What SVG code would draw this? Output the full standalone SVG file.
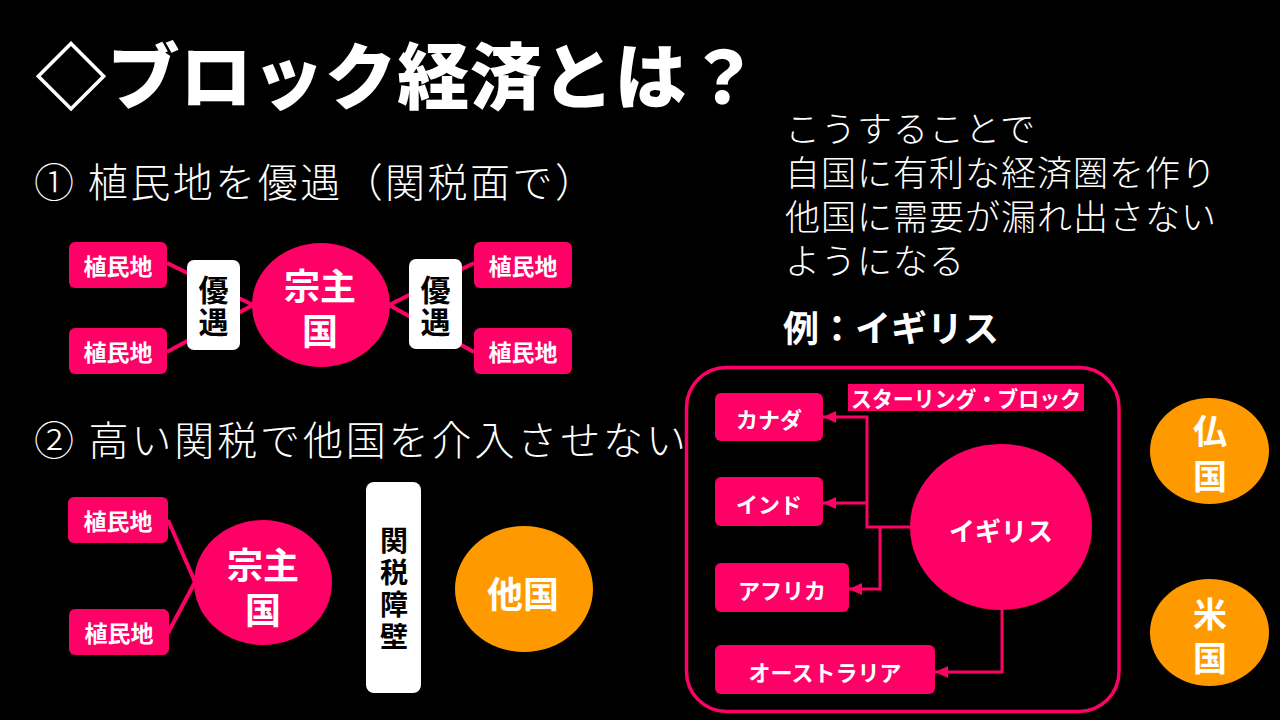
<svg xmlns="http://www.w3.org/2000/svg" width="1280" height="720" viewBox="0 0 1280 720">
<defs>
<style>
text{font-family:'Noto Sans CJK JP','Noto Sans CJK SC',sans-serif}
.pk{fill:#FF0066}
.or{fill:#FF9900}
.wbox{fill:#FFFFFF}
.lbl{fill:#FFFFFF;font-weight:700;text-anchor:middle;dominant-baseline:central}
.vw{fill:#FFFFFF;font-weight:700;text-anchor:middle;writing-mode:vertical-rl}
.vk{fill:#000000;font-weight:700;text-anchor:middle;writing-mode:vertical-rl}
.body{fill:#FFFFFF;font-weight:300}
.ln{stroke:#FF0066;stroke-width:4;fill:none}
.ar{stroke:#FF0066;stroke-width:3;fill:none;marker-end:url(#ah)}
</style>
<marker id="ah" markerUnits="userSpaceOnUse" markerWidth="13" markerHeight="12" refX="13" refY="6" orient="auto">
<path d="M0,0 L13,6 L0,12 z" fill="#FF0066"/>
</marker>
</defs>
<rect width="1280" height="720" fill="#000000"/>

<g id="title">
<text x="35" y="103" font-size="72" font-weight="900" fill="#FFFFFF" textLength="724" lengthAdjust="spacing">◇ブロック経済とは？</text>
</g>
<g id="heading1"><text class="body" x="34" y="197" font-size="40" textLength="561" lengthAdjust="spacing">① 植民地を優遇（関税面で）</text></g>
<g id="heading2"><text class="body" x="34" y="455" font-size="40" textLength="652" lengthAdjust="spacing">② 高い関税で他国を介入させない</text></g>
<g id="explain">
<text class="body" font-size="35" letter-spacing="1"><tspan x="785" y="142">こうすることで</tspan><tspan x="785" y="186">自国に有利な経済圏を作り</tspan><tspan x="785" y="230">他国に需要が漏れ出さない</tspan><tspan x="785" y="274">ようになる</tspan></text>
<text x="783" y="342" font-size="36" font-weight="700" fill="#FFFFFF">例：イギリス</text>
</g>

<g id="connectors">
<line class="ln" x1="167" y1="263" x2="253" y2="305"/>
<line class="ln" x1="167" y1="352" x2="253" y2="305"/>
<line class="ln" x1="389" y1="305" x2="474" y2="263"/>
<line class="ln" x1="389" y1="305" x2="474" y2="352"/>
<line class="ln" x1="168" y1="520" x2="195" y2="582"/>
<line class="ln" x1="168" y1="633" x2="195" y2="582"/>
<path class="ar" d="M910,527 H867 V417 H823"/>
<path class="ar" d="M867,503 H823"/>
<path class="ar" d="M880,527 V589 H849"/>
<path class="ar" d="M1002,610 V672 H935"/>
</g>

<g id="col1a"><rect class="pk" x="69" y="242" width="98" height="46" rx="6"/><text class="lbl" x="118" y="265" font-size="23">植民地</text></g>
<g id="col1b"><rect class="pk" x="69" y="328" width="98" height="46" rx="6"/><text class="lbl" x="118" y="351" font-size="23">植民地</text></g>
<g id="col1c"><rect class="pk" x="474" y="242" width="98" height="46" rx="6"/><text class="lbl" x="523" y="265" font-size="23">植民地</text></g>
<g id="col1d"><rect class="pk" x="474" y="328" width="98" height="46" rx="6"/><text class="lbl" x="523" y="351" font-size="23">植民地</text></g>
<g id="yuuguu1"><rect class="wbox" x="187" y="260" width="53" height="90" rx="7"/><text class="vk" x="213.5" y="307" font-size="30" letter-spacing="2">優遇</text></g>
<g id="yuuguu2"><rect class="wbox" x="409" y="259" width="53" height="90" rx="7"/><text class="vk" x="435.5" y="307" font-size="30" letter-spacing="2">優遇</text></g>
<g id="suzerain1"><ellipse class="pk" cx="321" cy="305" rx="69" ry="62"/><text class="lbl" font-size="36"><tspan x="320" y="284">宗主</tspan><tspan x="320" y="329">国</tspan></text></g>

<g id="col2a"><rect class="pk" x="68" y="497" width="100" height="46" rx="6"/><text class="lbl" x="118" y="520" font-size="23">植民地</text></g>
<g id="col2b"><rect class="pk" x="69" y="609" width="100" height="46" rx="6"/><text class="lbl" x="119" y="632" font-size="23">植民地</text></g>
<g id="suzerain2"><ellipse class="pk" cx="263" cy="582.5" rx="69" ry="62.5"/><text class="lbl" font-size="36"><tspan x="263" y="563">宗主</tspan><tspan x="263" y="608">国</tspan></text></g>
<g id="barrier"><rect class="wbox" x="366" y="482" width="55" height="211" rx="8"/><text class="vk" x="394" y="590" font-size="28" letter-spacing="4">関税障壁</text></g>
<g id="other"><ellipse class="or" cx="524" cy="589" rx="69" ry="63"/><text class="lbl" x="523" y="592" font-size="36">他国</text></g>

<g id="bloc"><rect x="686.5" y="367.5" width="432.5" height="344" rx="40" fill="none" stroke="#FF0066" stroke-width="3.5"/></g>
<g id="sterling"><rect class="pk" x="848" y="384" width="236" height="27"/><text class="lbl" x="966" y="397" font-size="22" textLength="230" lengthAdjust="spacingAndGlyphs">スターリング・ブロック</text></g>
<g id="canada"><rect class="pk" x="715" y="393" width="108" height="48" rx="6"/><text class="lbl" x="769" y="418" font-size="22">カナダ</text></g>
<g id="india"><rect class="pk" x="715" y="477" width="108" height="49" rx="6"/><text class="lbl" x="769" y="503" font-size="22">インド</text></g>
<g id="africa"><rect class="pk" x="715" y="563" width="134" height="49" rx="6"/><text class="lbl" x="782" y="589" font-size="22">アフリカ</text></g>
<g id="australia"><rect class="pk" x="715" y="645" width="220" height="49" rx="6"/><text class="lbl" x="825" y="671" font-size="22">オーストラリア</text></g>
<g id="uk"><ellipse class="pk" cx="1001" cy="527" rx="91" ry="83"/><text class="lbl" x="1001" y="529" font-size="26">イギリス</text></g>
<g id="france"><ellipse class="or" cx="1209.5" cy="451" rx="59.5" ry="53"/><text class="vw" x="1210" y="459" font-size="34" letter-spacing="11">仏国</text></g>
<g id="usa"><ellipse class="or" cx="1209.5" cy="632.5" rx="59.5" ry="53.5"/><text class="vw" x="1210" y="641" font-size="34" letter-spacing="10">米国</text></g>
</svg>
